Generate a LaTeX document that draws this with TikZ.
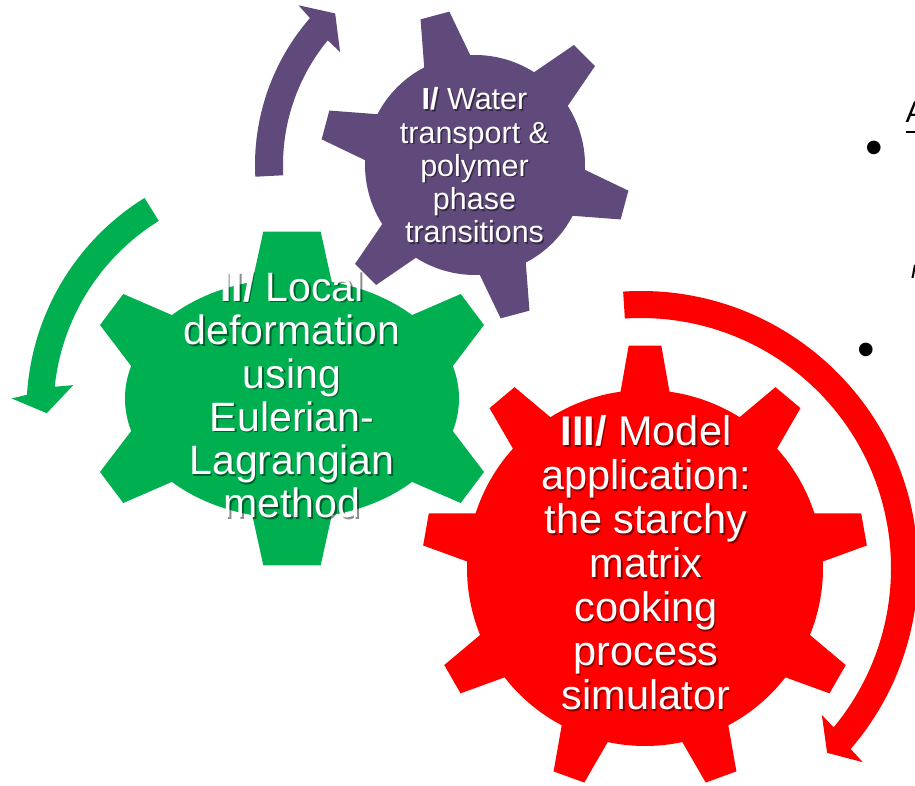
\documentclass[tikz,border=0pt]{standalone}
\usepackage{fontspec}
\setmainfont{Liberation Sans}
\usetikzlibrary{
  calc
}

\definecolor{gearpurple}{RGB}{96,74,123}
\definecolor{geargreen}{RGB}{0,176,80}
\definecolor{gearred}{RGB}{255,0,0}

\tikzset{
  % For the purple gear and its arrow.
  purple part/.style={
    fill=gearpurple},
%
  % For the green gear and its arrow.
  green part/.style={
    fill=geargreen},
%
  % For the red gear and its arrow.
  red part/.style={
    fill=gearred},
%
  % For the white texts on the gears.
  gear text/.style={
    text=white,
    align=center,
    inner sep=0pt},
%
  % For the soft shadows behind the gear texts.
  text shadow/.style={
    gear text,
    text=black,
    opacity=0.45},
%
  % Sizes of the three gear texts.
  small text/.style={
    font=\fontsize{30.5}{33.3}\selectfont},
  medium text/.style={
    font=\fontsize{41}{43.3}\selectfont},
  large text/.style={
    font=\fontsize{41.5}{44}\selectfont},
%
  % For the slide text that is cut off at the right edge.
  slide text/.style={
    inner sep=0pt,
    font=\fontsize{30}{36}\selectfont},
%
  % For the bullets of the cut off list.
  bullet/.style={
    inner sep=0pt,
    font=\fontsize{50}{60}\selectfont},
%
  % For the underline of the cut off title.
  underline/.style={
    line width=2pt}
}

% Texts of the three gears.
\newcommand\waterlabel{\textbf{I/} Water\\transport \&\\polymer\\phase\\transitions}
\newcommand\locallabel{\textbf{II/} Local\\deformation\\using\\Eulerian-\\Lagrangian\\method}
\newcommand\modellabel{\textbf{III/} Model\\application:\\the starchy\\matrix\\cooking\\process\\simulator}

\begin{document}
\begin{tikzpicture}[x=1pt, y=-1pt]
  \useasboundingbox (0,0) rectangle (915,786);
  \clip (0,0) rectangle (915,786);

  % Purple gear, six teeth.
  \begin{scope}[shift={(475,165)}]
    \fill[purple part] (-117.5:110)
      \foreach \a in {-105,-45,...,195} {
        -- ({\a-12.5}:110) -- ({\a-5.5}:155.5)
        -- ({\a+5.5}:155.5) -- ({\a+12.5}:110)
        arc[start angle=\a+12.5, end angle=\a+47.5, radius=110]}
      -- cycle;
  \end{scope}

  % Green gear, an oval with six teeth.
  \fill[green part] (292,398.5) ellipse[x radius=167, y radius=120];
  \fill[green part] (263.3,231.7) -- (320.7,231.7) -- (332,283) -- (292,398.5) -- (252,283) -- cycle;
  \fill[green part] (263.3,565.3) -- (320.7,565.3) -- (332,514) -- (292,398.5) -- (252,514) -- cycle;
  \fill[green part] (171.7,315) -- (123.3,294) -- (100,325) -- (131.7,366.7) -- (292,398.5) -- cycle;
  \fill[green part] (171.7,482) -- (123.3,503) -- (100,472) -- (131.7,430.3) -- (292,398.5) -- cycle;
  \fill[green part] (412.3,315) -- (460.7,294) -- (484,325) -- (452.3,366.7) -- (292,398.5) -- cycle;
  \fill[green part] (412.3,482) -- (460.7,503) -- (484,472) -- (452.3,430.3) -- (292,398.5) -- cycle;

  % Red gear, nine teeth.
  \begin{scope}[shift={(645,568)}]
    \fill[red part] (-97.9:178)
      \foreach \a in {-90,-50,...,230} {
        -- ({\a-7.9}:178) -- ({\a-4.2}:223)
        -- ({\a+4.2}:223) -- ({\a+7.9}:178)
        arc[start angle=\a+7.9, end angle=\a+32.1, radius=178]}
      -- cycle;
  \end{scope}

  % Purple arrow.
  \begin{scope}[shift={(479,165)}]
    \fill[purple part] (177:224)
      arc[start angle=177, end angle=221, radius=224]
      -- (221.5:241) -- (226.5:209) -- (219.1:179) -- (219.5:196)
      arc[start angle=219.5, end angle=177, radius=196] -- cycle;
  \end{scope}

  % Green arrow.
  \begin{scope}[shift={(276,410)}]
    \fill[green part] (238.2:249.5)
      arc[start angle=238.2, end angle=183.5, radius=249.5]
      -- (182.5:264.6) -- (179.2:229.3) -- (187:204.2) -- (186:222.5)
      arc[start angle=186, end angle=238.2, radius=222.5] -- cycle;
  \end{scope}

  % Red arrow.
  \begin{scope}[shift={(641,568)}]
    \fill[red part] (266.3:277)
      arc[start angle=266.3, end angle=400.8, radius=277]
      -- (401.2:294.8) -- (404.8:262.3) -- (399.1:233) -- (399.6:250)
      arc[start angle=399.6, end angle=266.3, radius=250] -- cycle;
  \end{scope}

  % Gear texts, shadow first.
  \node[text shadow, small text] (water shadow) at (476,166.9) {\waterlabel};
  \node[gear text, small text] (water) at (474.5,165.4) {\waterlabel};

  \node[text shadow, medium text] (local shadow) at (293.5,396.5) {\locallabel};
  \node[gear text, medium text] (local) at (292,395) {\locallabel};

  \node[text shadow, large text] (model shadow) at (647.5,564.4) {\modellabel};
  \node[gear text, large text] (model) at (646,562.9) {\modellabel};

  % Slide text cut off at the right edge.
  \node[slide text, anchor=base west] (title) at (905.5,123) {A};
  \draw[underline] ($(title.base west)+(0,9.5)$) -- ($(title.base east)+(0,9.5)$);
  \node[bullet] (first bullet) at (874,153) {•};
  \node[bullet] (second bullet) at (866,355) {•};
  \node[slide text, anchor=base west,
        font=\fontsize{25}{30}\selectfont\itshape] (cut word) at (911,278) {n};
\end{tikzpicture}
\end{document}
